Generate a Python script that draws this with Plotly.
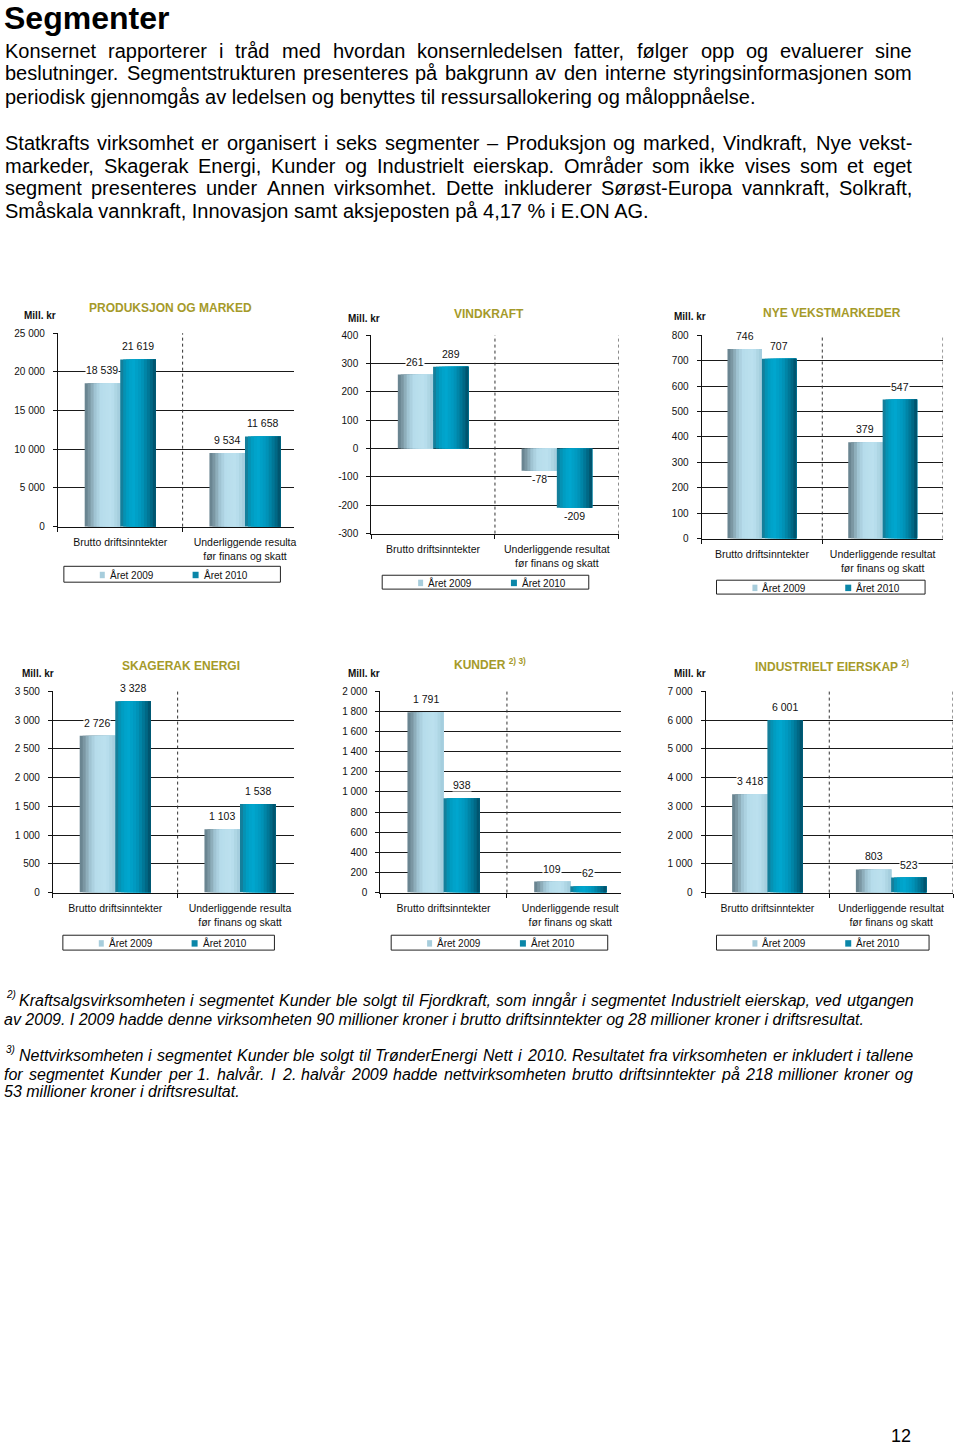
import plotly.graph_objects as go

# ---------------- DATA ----------------
categories = ["Brutto driftsinntekter", "Underliggende resultat før finans og skatt"]
series_names = ["Året 2009", "Året 2010"]

titles = ["PRODUKSJON OG MARKED", "VINDKRAFT", "NYE VEKSTMARKEDER",
          "SKAGERAK ENERGI", "KUNDER", "INDUSTRIELT EIERSKAP"]
title_notes = ["", "", "", "", "2) 3)", "2)"]

prod_2009 = [18539, 9534]
prod_2010 = [21619, 11658]
vind_2009 = [261, -78]
vind_2010 = [289, -209]
nye_2009 = [746, 379]
nye_2010 = [707, 547]
skag_2009 = [2726, 1103]
skag_2010 = [3328, 1538]
kund_2009 = [1791, 109]
kund_2010 = [938, 62]
ind_2009 = [3418, 803]
ind_2010 = [6001, 523]

prod_ticks = [0, 5000, 10000, 15000, 20000, 25000]
vind_ticks = [-300, -200, -100, 0, 100, 200, 300, 400]
nye_ticks = [0, 100, 200, 300, 400, 500, 600, 700, 800]
skag_ticks = [0, 500, 1000, 1500, 2000, 2500, 3000, 3500]
kund_ticks = [0, 200, 400, 600, 800, 1000, 1200, 1400, 1600, 1800, 2000]
ind_ticks = [0, 1000, 2000, 3000, 4000, 5000, 6000, 7000]

cat_labels_full = ["Brutto driftsinntekter", "Underliggende resultat<br>før finans og skatt"]
cat_labels_cut = ["Brutto driftsinntekter", "Underliggende resulta<br>før finans og skatt"]
cat_labels_cut2 = ["Brutto driftsinntekter", "Underliggende result<br>før finans og skatt"]

page_title = "Segmenter"
body_lines = [
    "Konsernet rapporterer i tråd med hvordan konsernledelsen fatter, følger opp og evaluerer sine",
    "beslutninger. Segmentstrukturen presenteres på bakgrunn av den interne styringsinformasjonen som",
    "periodisk gjennomgås av ledelsen og benyttes til ressursallokering og måloppnåelse.",
    "Statkrafts virksomhet er organisert i seks segmenter – Produksjon og marked, Vindkraft, Nye vekst-",
    "markeder, Skagerak Energi, Kunder og Industrielt eierskap. Områder som ikke vises som et eget",
    "segment presenteres under Annen virksomhet. Dette inkluderer Sørøst-Europa vannkraft, Solkraft,",
    "Småskala vannkraft, Innovasjon samt aksjeposten på 4,17 % i E.ON AG.",
]
body_justified = [True, True, False, True, True, True, False]
foot_marks = ["2)", "3)"]
foot_lines = [
    "Kraftsalgsvirksomheten i segmentet Kunder ble solgt til Fjordkraft, som inngår i segmentet Industrielt eierskap, ved utgangen",
    "av 2009. I 2009 hadde denne virksomheten 90 millioner kroner i brutto driftsinntekter og 28 millioner kroner i driftsresultat.",
    "Nettvirksomheten i segmentet Kunder ble solgt til TrønderEnergi Nett i 2010. Resultatet fra virksomheten er inkludert i tallene",
    "for segmentet Kunder per 1. halvår. I 2. halvår 2009 hadde nettvirksomheten brutto driftsinntekter på 218 millioner kroner og",
    "53 millioner kroner i driftsresultat.",
]
foot_justified = [True, False, True, True, False]
page_number = "12"

# ---------------- STYLE / GEOMETRY ----------------
W_PX, H_PX = 960, 1446
FONT = "Liberation Sans, Arial, sans-serif"
TITLE_COLOR = "#a59a2a"

# Arial / Liberation Sans advance widths (per 1000 em) for justification
_W = {" ": 278, ",": 278, ".": 278, "-": 333, "–": 556, "%": 889, "(": 333, ")": 333,
      "A": 667, "B": 667, "C": 722, "D": 722, "E": 667, "F": 611, "G": 778, "H": 722,
      "I": 278, "J": 500, "K": 667, "L": 556, "M": 833, "N": 722, "O": 778, "P": 667,
      "Q": 778, "R": 722, "S": 667, "T": 611, "U": 722, "V": 667, "W": 944, "X": 667,
      "Y": 667, "Z": 611, "a": 556, "b": 556, "c": 500, "d": 556, "e": 556, "f": 278,
      "g": 556, "h": 556, "i": 222, "j": 222, "k": 500, "l": 222, "m": 833, "n": 556,
      "o": 556, "p": 556, "q": 556, "r": 333, "s": 500, "t": 278, "u": 556, "v": 500,
      "w": 722, "x": 500, "y": 500, "z": 500, "å": 556, "ø": 611, "æ": 889, "Å": 667,
      "Ø": 778, "Æ": 1000}


def text_w(s, size):
    return sum(_W.get(ch, 556) for ch in s) * size / 1000.0


def px(x):
    return x / W_PX


def py(y):
    return 1 - y / H_PX


def fmt(v):
    s = f"{abs(int(round(v))):,}".replace(",", " ")
    return ("-" if v < 0 else "") + s


def lerp_stops(stops, t):
    for (p0, c0), (p1, c1) in zip(stops[:-1], stops[1:]):
        if p0 <= t <= p1:
            f = (t - p0) / (p1 - p0) if p1 > p0 else 0
            c = [round(a + (b - a) * f) for a, b in zip(c0, c1)]
            return f"rgb({c[0]},{c[1]},{c[2]})"
    c = stops[-1][1]
    return f"rgb({c[0]},{c[1]},{c[2]})"


stops09 = [(0.0, (98, 124, 136)), (0.12, (122, 150, 162)), (0.30, (162, 198, 213)),
           (0.45, (182, 220, 235)), (0.75, (188, 225, 239)), (1.0, (160, 202, 218))]
stops10 = [(0.0, (28, 118, 142)), (0.15, (0, 152, 188)), (0.35, (0, 168, 208)),
           (0.60, (0, 150, 188)), (0.85, (0, 110, 140)), (1.0, (0, 76, 100))]

N_STRIPS = 12
BW = 0.285  # bar width in category units

charts = [
    dict(s09=prod_2009, s10=prod_2010, ticks=prod_ticks, cats=cat_labels_cut,
         box=(58, 295, 330, 525), xend=-0.5 + (295 - 58) / 125, full=False,
         title=(171, 305, "center"), mill=(22, 312), leg=(64, 281, 565, 581)),
    dict(s09=vind_2009, s10=vind_2010, ticks=vind_ticks, cats=cat_labels_full,
         box=(372, 620, 332, 532), xend=1.5, full=True,
         title=(490, 311, "center"), mill=(347, 315), leg=(383, 590, 574, 588)),
    dict(s09=nye_2009, s10=nye_2010, ticks=nye_ticks, cats=cat_labels_full,
         box=(703, 945, 332, 537), xend=1.5, full=True,
         title=(834, 310, "center"), mill=(673, 313), leg=(718, 927, 579, 593)),
    dict(s09=skag_2009, s10=skag_2010, ticks=skag_ticks, cats=cat_labels_cut,
         box=(53, 295, 691, 894), xend=-0.5 + (295 - 53) / 125, full=False,
         title=(181, 666, "center"), mill=(20, 673), leg=(63, 275, 937, 952)),
    dict(s09=kund_2009, s10=kund_2010, ticks=kund_ticks, cats=cat_labels_cut2,
         box=(381, 622, 691, 894), xend=-0.5 + (622 - 381) / 127, full=False,
         title=(453, 664, "left"), mill=(347, 673), leg=(392, 609, 937, 952)),
    dict(s09=ind_2009, s10=ind_2010, ticks=ind_ticks, cats=cat_labels_full,
         box=(707, 955, 691, 894), xend=1.5, full=True,
         title=(755, 666, "left"), mill=(673, 673), leg=(718, 931, 937, 952)),
]

fig = go.Figure()
annotations = []
shapes = []
layout_axes = {}

for ci, ch in enumerate(charts):
    sfx = "" if ci == 0 else str(ci + 1)
    xa, ya = "x" + sfx, "y" + sfx
    x0, x1, y0, y1 = ch["box"]
    ticks = ch["ticks"]

    # bars drawn as overlapping strips to imitate the cylinder gradient
    for si, (vals, stops) in enumerate([(ch["s09"], stops09), (ch["s10"], stops10)]):
        base = -BW if si == 0 else 0.0
        for k in range(N_STRIPS):
            t = (k + 0.5) / N_STRIPS
            fig.add_trace(go.Bar(
                x=categories, y=vals, xaxis=xa, yaxis=ya,
                offset=base + k * BW / N_STRIPS, width=BW - k * BW / N_STRIPS,
                marker=dict(color=lerp_stops(stops, t), line=dict(width=0)),
                name=series_names[si], showlegend=False, hoverinfo="skip"))
        # value labels
        for i, v in enumerate(vals):
            annotations.append(dict(
                x=i + base + BW / 2, y=v, xref=xa, yref=ya, text=fmt(v),
                showarrow=False, yanchor="bottom" if v >= 0 else "top",
                yshift=6 if v >= 0 else -1, bgcolor="white", borderpad=0,
                font=dict(family=FONT, size=10.5, color="#111")))

    layout_axes["xaxis" + sfx] = dict(
        domain=[px(x0), px(x1)], anchor=ya, type="category",
        categoryorder="array", categoryarray=categories,
        tickmode="array", tickvals=categories, ticktext=ch["cats"],
        range=[-0.5, ch["xend"]], showgrid=False, showline=True,
        linecolor="#111", linewidth=1, ticks="outside", tickson="boundaries",
        ticklen=4, tickcolor="#111", tickfont=dict(family=FONT, size=10.5, color="#111"),
        ticklabelstandoff=6, zeroline=False, fixedrange=True)
    layout_axes["yaxis" + sfx] = dict(
        domain=[py(y1), py(y0)], anchor=xa, range=[ticks[0], ticks[-1]],
        tickmode="array", tickvals=ticks, ticktext=[fmt(t) for t in ticks],
        showgrid=True, gridcolor="#1a1a1a", gridwidth=1, showline=True,
        linecolor="#111", linewidth=1, ticks="outside", ticklen=4, tickcolor="#111",
        tickfont=dict(family=FONT, size=10, color="#111"), ticklabelstandoff=6,
        zeroline=False, fixedrange=True)

    # dotted dividers between categories (and right border when visible)
    div_xs = [0.5] + ([1.5] if ch["full"] else [])
    for dx in div_xs:
        shapes.append(dict(type="line", xref=xa, yref=ya + " domain", x0=dx, x1=dx,
                           y0=0, y1=1, line=dict(color="#333", width=1, dash="dot")))

    # title
    tx, ty, tanchor = ch["title"]
    ttext = f"<b>{titles[ci]}</b>"
    if title_notes[ci]:
        ttext += f" <sup><b>{title_notes[ci]}</b></sup>"
    annotations.append(dict(x=px(tx), y=py(ty), xref="paper", yref="paper", text=ttext,
                            showarrow=False, xanchor=tanchor, yanchor="middle",
                            font=dict(family=FONT, size=12, color=TITLE_COLOR)))
    mx, my = ch["mill"]
    annotations.append(dict(x=px(mx), y=py(my), xref="paper", yref="paper",
                            text="<b>Mill. kr</b>", showarrow=False, xanchor="left",
                            yanchor="middle", font=dict(family=FONT, size=10, color="#111")))

    # legend box
    lx0, lx1, ly0, ly1 = ch["leg"]
    shapes.append(dict(type="rect", xref="paper", yref="paper", x0=px(lx0), x1=px(lx1),
                       y0=py(ly1), y1=py(ly0), line=dict(color="#222", width=1),
                       fillcolor="white", layer="above"))
    lcy = (ly0 + ly1) / 2 + 0.5
    for li, (off, mcol, mw) in enumerate([(36, "#a7cddc", 5), (129, "#0a86a8", 6)]):
        mxl = lx0 + off
        shapes.append(dict(type="rect", xref="paper", yref="paper", x0=px(mxl),
                           x1=px(mxl + mw), y0=py(lcy + 3.5), y1=py(lcy - 3),
                           line=dict(width=0), fillcolor=mcol, layer="above"))
        annotations.append(dict(x=px(mxl + mw + 3), y=py(lcy), xref="paper", yref="paper",
                                text=series_names[li], showarrow=False, xanchor="left",
                                yanchor="middle",
                                font=dict(family=FONT, size=10, color="#111")))


def add_line(txt, x_start, x_end, yy, size, justify, italic=False):
    wrap = (lambda s: f"<i>{s}</i>") if italic else (lambda s: s)
    fnt = dict(family=FONT, size=size, color="#000")
    if not justify:
        annotations.append(dict(x=px(x_start), y=py(yy), xref="paper", yref="paper",
                                text=wrap(txt), showarrow=False, xanchor="left",
                                yanchor="middle", borderpad=0, font=fnt))
        return
    words = txt.split(" ")
    widths = [text_w(w, size) for w in words]
    gap = (x_end - x_start - sum(widths)) / (len(words) - 1)
    xx = x_start
    for w, ww in zip(words, widths):
        annotations.append(dict(x=px(xx), y=py(yy), xref="paper", yref="paper",
                                text=wrap(w), showarrow=False, xanchor="left",
                                yanchor="middle", borderpad=0, font=fnt))
        xx += ww + gap


# page text
annotations.append(dict(x=px(3), y=py(12), xref="paper", yref="paper",
                        text=f"<b>{page_title}</b>", showarrow=False, xanchor="left",
                        yanchor="middle", borderpad=0,
                        font=dict(family=FONT, size=32, color="#000")))
body_y = [45, 68, 92, 138, 161, 184, 207]
for txt, yy, jf in zip(body_lines, body_y, body_justified):
    add_line(txt, 4, 913, yy, 20, jf)

foot_y = [1003, 1022, 1058, 1077, 1095]
foot_x = [18, 3, 18, 3, 3]
for txt, yy, xx, jf in zip(foot_lines, foot_y, foot_x, foot_justified):
    add_line(txt, xx, 914, yy, 16, jf, italic=True)
for mk, yy in zip(foot_marks, [997, 1052]):
    annotations.append(dict(x=px(4), y=py(yy), xref="paper", yref="paper",
                            text=f"<i>{mk}</i>", showarrow=False, xanchor="left",
                            yanchor="middle", font=dict(family=FONT, size=10, color="#000")))
annotations.append(dict(x=px(914), y=py(1438), xref="paper", yref="paper",
                        text=page_number, showarrow=False, xanchor="right",
                        yanchor="middle", borderpad=0, yshift=-4,
                        font=dict(family=FONT, size=18, color="#000")))

fig.update_layout(
    width=W_PX, height=H_PX, margin=dict(l=0, r=0, t=0, b=0, pad=0),
    paper_bgcolor="white", plot_bgcolor="white", barmode="overlay",
    showlegend=False, annotations=annotations, shapes=shapes,
    font=dict(family=FONT, color="#111"), **layout_axes)

fig.write_html("out.html", config={"displayModeBar": False},
               post_script="document.body.style.margin='0px';document.body.style.overflow='hidden';")
